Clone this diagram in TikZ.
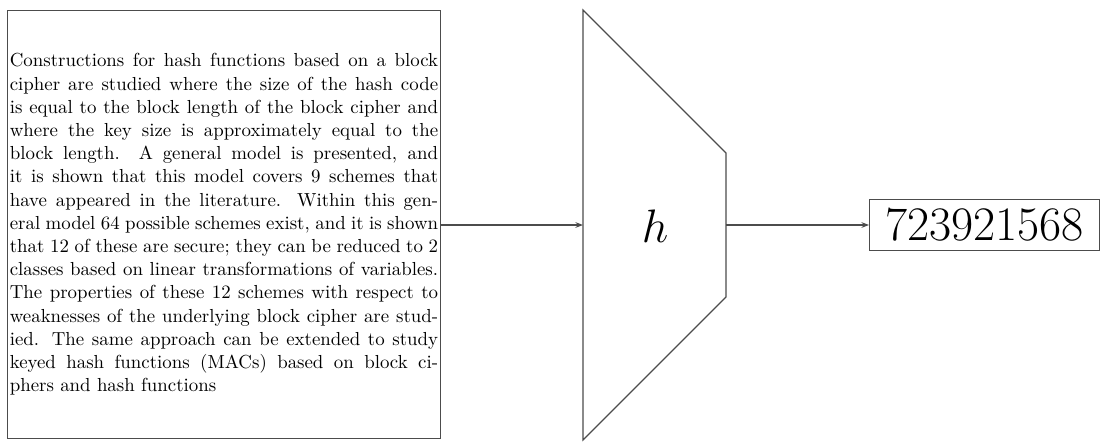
\documentclass[tikz,border=0pt]{standalone}
\usepackage{tikz}
\usetikzlibrary{arrows.meta, positioning}

\begin{document}
\begin{tikzpicture}[x=0.53pt, y=-0.53pt, line width=0.6pt,
    abstractbox/.style={draw=black!70, anchor=north west, inner xsep=1.2pt, inner ysep=0pt,
      text width=227pt, minimum height=226.8pt, align=justify,
      font=\fontsize{10}{12.3}\selectfont},
    digestbox/.style={draw=black!70, right, inner sep=0pt, minimum width=122pt,
      minimum height=27pt, font=\fontsize{25.5}{28}\selectfont},
    flowarrow/.style={-{Stealth[length=4pt, width=3pt]}, draw=black!70}]
    \useasboundingbox (0,0) rectangle (1102,441);
    % Message (abstract) box
    \node[abstractbox] (msg) at (7,10) {%
      Constructions for hash functions based on a block\linebreak
      cipher are studied where the size of the hash code\linebreak
      is equal to the block length of the block cipher and\linebreak
      where the key size is approximately equal to the\linebreak
      block length.  A general model is presented, and\linebreak
      it is shown that this model covers 9 schemes that\linebreak
      have appeared in the literature.  Within this gen-\linebreak
      eral model 64 possible schemes exist, and it is shown\linebreak
      that 12 of these are secure; they can be reduced to 2\linebreak
      classes based on linear transformations of variables.\linebreak
      The properties of these 12 schemes with respect to\linebreak
      weaknesses of the underlying block cipher are stud-\linebreak
      ied.  The same approach can be extended to study\linebreak
      keyed hash functions (MACs) based on block ci-\linebreak
      phers and hash functions};
    % Hash function (compressing trapezoid)
    \draw[black!70] (583,10) -- (726,153) -- (726,297) -- (583,440) -- cycle;
    \node[font=\fontsize{24}{28}\selectfont] (h) at (655,226) {$h$};
    \coordinate (hin) at (583,225);
    \coordinate (hout) at (726,225);
    % Digest
    \node[digestbox, right=75.8pt of hout] (digest) {723921568};
    % Arrows
    \draw[flowarrow] (msg.east |- hin) -- (hin);
    \draw[flowarrow] (hout) -- (digest.west);
\end{tikzpicture}
\end{document}
